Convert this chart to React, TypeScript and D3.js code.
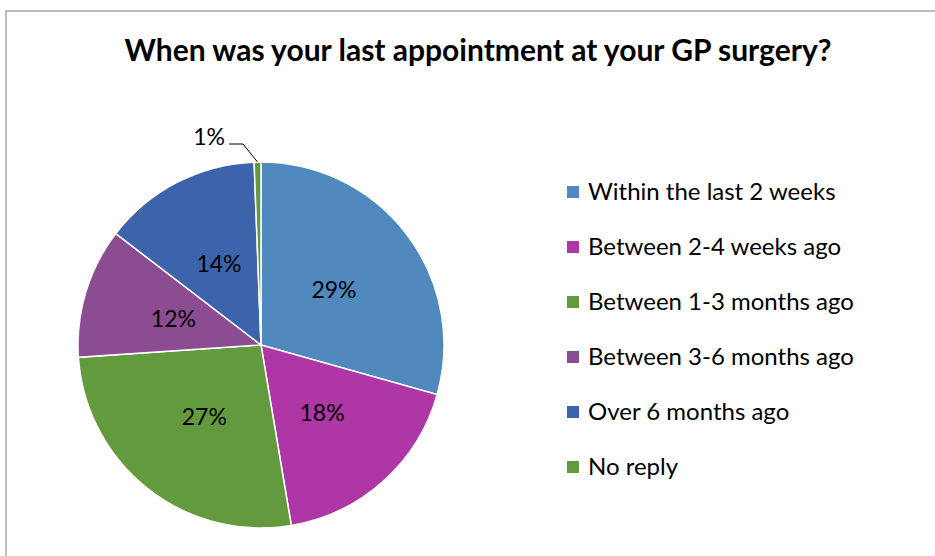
import React from "react";
import * as d3 from "d3";

const categories = [
  "Within the last 2 weeks",
  "Between 2-4 weeks ago",
  "Between 1-3 months ago",
  "Between 3-6 months ago",
  "Over 6 months ago",
  "No reply",
];
const values = [29.4, 18.0, 26.6, 11.5, 14.0, 0.6];
const labels = ["29%", "18%", "27%", "12%", "14%", "1%"];
const colors = ["#4f89be", "#ae36a5", "#639a3e", "#8c4c92", "#3d64aa", "#639a3e"];

const W = 935;
const H = 556;
const font = "Lato, 'Open Sans', sans-serif";

const App = () => {
  const cx = 261;
  const cy = 345;
  const r = 183;

  const pie = d3.pie<number>().sort(null).value((d) => d);
  const arcs = pie(values);
  const arc = d3.arc<d3.PieArcDatum<number>>().innerRadius(0).outerRadius(r);

  const legendY = d3
    .scalePoint<string>()
    .domain(categories)
    .range([192, 467]);

  // small slice gets a leader line instead of an inside label
  const small = arcs[5];
  const midA = (small.startAngle + small.endAngle) / 2;
  const edge: [number, number] = [Math.sin(midA) * r, -Math.cos(midA) * r];

  return (
    <svg
      width={W}
      height={H}
      style={{ position: "absolute", left: 0, top: 0, background: "#fff" }}
    >
      <rect x={6} y={11} width={W} height={H} fill="#fff" stroke="#a6a6a6" strokeWidth={1.5} />
      <text
        x={478}
        y={61}
        textAnchor="middle"
        fontFamily={font}
        fontWeight="bold"
        fontSize={30}
        fill="#000"
      >
        When was your last appointment at your GP surgery?
      </text>
      <g transform={`translate(${cx},${cy})`}>
        {arcs.map((a, i) => (
          <path key={i} d={arc(a) ?? ""} fill={colors[i]} stroke="#fff" strokeWidth={1.5} />
        ))}
        {arcs.slice(0, 5).map((a, i) => {
          const [x, y] = arc.centroid(a);
          return (
            <text
              key={i}
              x={x}
              y={y}
              dy="0.35em"
              textAnchor="middle"
              fontFamily={font}
              fontSize={23}
              fill="#000"
            >
              {labels[i]}
            </text>
          );
        })}
        <polyline
          points={`${-32},${-201} ${-18},${-201} ${edge[0]},${edge[1]}`}
          fill="none"
          stroke="#000"
          strokeWidth={1}
        />
        <text x={-36} y={-200} textAnchor="end" fontFamily={font} fontSize={23} fill="#000">
          {labels[5]}
        </text>
      </g>
      <g>
        {categories.map((c, i) => (
          <g key={c} transform={`translate(567,${legendY(c)})`}>
            <rect x={0} y={-6} width={12} height={12} fill={colors[i]} />
            <text x={21} y={8} fontFamily={font} fontSize={24} fill="#000">
              {c}
            </text>
          </g>
        ))}
      </g>
    </svg>
  );
};

export default App;
